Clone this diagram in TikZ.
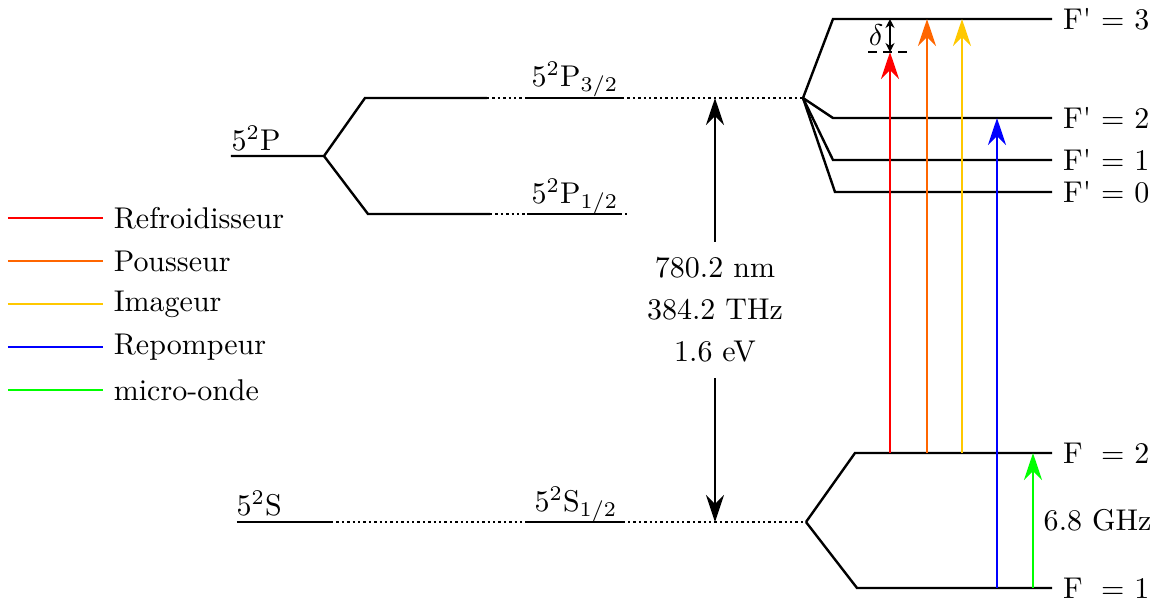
\documentclass[tikz,border=0pt]{standalone}
\usetikzlibrary{arrows.meta}
\usetikzlibrary{positioning}
\definecolor{pushOrange}{RGB}{255,102,0}
\definecolor{imageYellow}{RGB}{255,200,0}
\definecolor{microGreen}{RGB}{0,255,0}
\newcommand{\fprime}{F\textquotesingle}
\tikzset{
  energyLevel/.style={line width=0.8pt},
  virtualLevel/.style={line width=0.8pt, densely dotted},
  laserBeam/.style={line width=0.5pt, -{Stealth[length=9pt, width=6pt, inset=3pt]}},
  bigArrow/.style={line width=0.6pt, -{Stealth[length=9pt, width=6pt, inset=3pt]}},
  legendLine/.style={line width=0.6pt}
}

\begin{document}
\begin{tikzpicture}[x=0.3333pt, y=-0.3333pt]
  \useasboundingbox (0,0) rectangle (1162,602);

  % fine structure
  \coordinate (P) at (324,156);
  \coordinate (P32) at (365,98);
  \coordinate (P12) at (368,214);
  \coordinate (S) at (331,522);
  \coordinate (Psplit) at (803,98);
  \coordinate (Ssplit) at (806,522);

  \draw[energyLevel] (231,156) -- (P) -- (P32) -- (487,98);
  \draw[energyLevel] (P) -- (P12) -- (490,214);
  \draw[energyLevel] (237,522) -- (S);
  \draw[virtualLevel] (487,98) -- (Psplit);
  \draw[virtualLevel] (490,214) -- (628,214);
  \draw[virtualLevel] (S) -- (Ssplit);
  \draw[energyLevel] (527,98) -- (622,98);
  \draw[energyLevel] (527,214) -- (622,214);
  \draw[energyLevel] (527,522) -- (625,522);

  \node[anchor=base west, inner sep=0pt] (labelP) at (231,150) {5$^2$P};
  \node[anchor=base west, inner sep=0pt] (labelS) at (236,515) {5$^2$S};
  \node[anchor=base, inner sep=0pt] (labelP32) at (575,86) {5$^2$P$_{3/2}$};
  \node[anchor=base, inner sep=0pt] (labelP12) at (575,203) {5$^2$P$_{1/2}$};
  \node[anchor=base, inner sep=0pt] (labelS12) at (576,511) {5$^2$S$_{1/2}$};

  % hyperfine structure
  \foreach \name/\x/\y/\txt in {F3/833/19/{\fprime{} = 3}, F2/833/118/{\fprime{} = 2},
                                F1/833/160/{\fprime{} = 1}, F0/835/192/{\fprime{} = 0}} {
    \draw[energyLevel] (Psplit) -- (\x,\y) -- (1052,\y) node[right] (\name) {\txt};
  }
  \draw[energyLevel] (Ssplit) -- (855,453) -- (1052,453) node[right] (Fb) {F\phantom{\textquotesingle} = 2};
  \draw[energyLevel] (Ssplit) -- (857,588) -- (1052,588) node[right] (Fa) {F\phantom{\textquotesingle} = 1};

  % D2 line
  \node[align=center, inner sep=5pt] (gap) at (715,310) {780.2 nm\\[2pt]384.2 THz\\[2pt]1.6 eV};
  \coordinate (D2top) at (715,98);
  \coordinate (D2bot) at (715,522);
  \draw[bigArrow] (gap) -- (D2top);
  \draw[bigArrow] (gap) -- (D2bot);

  % lasers
  \coordinate (coolStart) at (890,453);
  \coordinate (coolEnd) at (890,52);
  \draw[laserBeam, red] (coolStart) -- (coolEnd);
  \draw[laserBeam, pushOrange] (927,453) -- (927,19);
  \draw[laserBeam, imageYellow] (962,453) -- (962,19);
  \draw[laserBeam, blue] (997,588) -- (997,118);
  \draw[laserBeam, microGreen] (1033,588) -- node[right, text=black] (ghz) {6.8 GHz} (1033,453);

  % detuning
  \draw[densely dashed, line width=0.6pt] (868,52) -- (912,52);
  \draw[{Stealth[length=3pt, width=3pt]}-{Stealth[length=3pt, width=3pt]}, line width=0.4pt]
    (890,19) -- node[left, inner sep=2pt] (delta) {$\delta$} (coolEnd);

  % legend
  \foreach \col/\txt [count=\i] in {red/Refroidisseur, pushOrange/Pousseur,
                                    imageYellow/Imageur, blue/Repompeur, microGreen/micro-onde} {
    \draw[legendLine, \col] (8,175+43*\i) -- (103,175+43*\i) node[right, text=black] (leg\i) {\txt};
  }
\end{tikzpicture}
\end{document}
